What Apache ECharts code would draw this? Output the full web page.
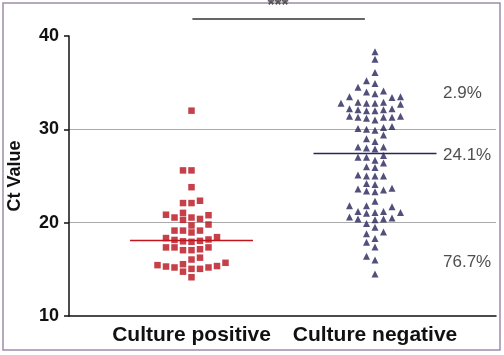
<!DOCTYPE html>
<html><head><meta charset="utf-8">
<script src="https://cdn.jsdelivr.net/npm/echarts@6/dist/echarts.min.js"></script>
<style>html,body{margin:0;padding:0;background:#fff}#c{width:504px;height:355px}</style>
</head><body><div id="c"></div>
<script>
// ---- data ----
const categories = ['Culture positive', 'Culture negative'];
const positiveCt = [32.0, 25.6, 25.6, 23.8, 22.1, 22.1, 22.35, 21.05, 20.85, 20.55, 20.3, 20.4, 20.55, 20.8,
  19.8, 19.7, 19.15, 19.15, 18.95, 19.15, 18.45, 18.2, 18.05, 18.0, 18.15, 18.35, 17.95,
  17.35, 17.15, 17.05, 17.05, 17.35, 17.35, 16.05, 16.25,
  15.55, 15.35, 15.2, 15.05, 15.05, 15.2, 15.3, 15.45, 15.7, 14.75, 14.15];
const negativeCt = [38.3, 37.5, 36.1, 35.2, 34.9, 34.5, 34.1, 34.0, 33.8,
  33.5, 33.4, 33.5,
  32.9, 32.8, 32.7, 32.8, 32.9, 32.8,
  32.2, 32.0, 32.1, 32.0, 32.2, 32.1,
  31.4, 31.3, 31.2, 31.3, 31.4, 31.3,
  31.0,
  30.3, 30.1, 30.0, 29.9, 30.2,
  29.4, 29.0, 28.7,
  28.1, 28.1, 28.0, 27.9,
  27.2, 27.0, 27.0, 26.7, 26.4,
  26.0, 25.9,
  25.0, 25.0, 25.1, 25.0,
  24.2, 24.1,
  23.7, 23.6, 23.5, 23.4, 23.3,
  22.3,
  21.8, 21.7, 21.8,
  21.1, 21.2, 21.0, 21.1, 21.2,
  20.5, 20.4, 20.3, 20.4, 20.6,
  19.9, 19.5, 19.0, 18.8, 18.3, 17.9, 17.4, 16.4, 16.0, 14.5];
const medians = [18.1, 27.4];
const percentLabels = ['2.9%', '24.1%', '76.7%'];
const yTicks = [10, 20, 30, 40];
const significance = '***';
const yName = 'Ct Value';

// ---- layout ----
const GRID = {left: 69, right: 8, top: 36, bottom: 39};
const W = 504, H = 355;
const plotW = W - GRID.left - GRID.right, plotH = H - GRID.top - GRID.bottom;
const X_MIN = 0.3324, X_MAX = 2.6594;
const pxX = plotW / (X_MAX - X_MIN);
const Y_MIN = yTicks[0], Y_MAX = yTicks[yTicks.length - 1];
const pxY = plotH / (Y_MAX - Y_MIN);

function swarm(values, center) {
  const slot = 8.5, hitY = 7;
  const sorted = values.slice().sort((a, b) => a - b);
  const placed = [];
  return sorted.map(v => {
    for (let k = 0; ; k++) {
      const s = k === 0 ? 0 : (k % 2 ? -Math.ceil(k / 2) : k / 2);
      if (!placed.some(p => p.s === s && Math.abs(p.v - v) * pxY < hitY)) {
        placed.push({s, v});
        return [center + s * slot / pxX, v];
      }
    }
  });
}

const halfMed = 0.335;
const sigY = Y_MAX + (GRID.top - 19) / pxY;
const starY = Y_MAX + (GRID.top - 6) / pxY;
const pctX = 2 + (443 - 375) / pxX;
const pctY = [33.9, 27.25, 15.8];
const FONT = 'Liberation Sans, Arial, sans-serif';

const chart = echarts.init(document.getElementById('c'), null, {renderer: 'canvas'});
chart.setOption({
  animation: false,
  backgroundColor: '#fff',
  grid: {left: GRID.left, right: GRID.right, top: GRID.top, bottom: GRID.bottom},
  xAxis: {
    type: 'value', min: X_MIN, max: X_MAX,
    axisLine: {show: true, onZero: false, lineStyle: {color: '#111', width: 1.5}},
    axisTick: {show: false},
    splitLine: {show: false},
    axisLabel: {customValues: [1, 2], formatter: v => categories[Math.round(v) - 1] || '',
      fontSize: 21, fontWeight: 'bold', color: '#111', fontFamily: FONT, margin: 9}
  },
  yAxis: {
    type: 'value', min: Y_MIN, max: Y_MAX, interval: 10,
    axisLine: {show: true, lineStyle: {color: '#111', width: 1.5}},
    axisTick: {show: true, length: 5, lineStyle: {color: '#111', width: 1.5}},
    axisLabel: {fontSize: 18, fontWeight: 'bold', color: '#111', fontFamily: FONT, margin: 10},
    splitLine: {show: true, showMinLine: false, showMaxLine: false, lineStyle: {color: '#aaa', width: 1}}
  },
  graphic: [
    {type: 'rect', shape: {x: 3, y: 3, width: 497, height: 347}, silent: true,
      style: {fill: 'none', stroke: '#a08cae', lineWidth: 1.5}},
    {type: 'text', x: 15, y: GRID.top + plotH / 2, rotation: Math.PI / 2, silent: true,
      style: {text: yName, font: 'bold 18px "Liberation Sans", Arial, sans-serif', fill: '#111',
        textAlign: 'center', textVerticalAlign: 'middle'}}
  ],
  series: [
    {type: 'scatter', symbol: 'rect', symbolSize: 6.5, itemStyle: {color: '#b8101c'}, data: swarm(positiveCt, 1), z: 3},
    {type: 'scatter', symbol: 'triangle', symbolSize: 7, itemStyle: {color: '#25245a'}, data: swarm(negativeCt, 2), z: 3},
    {type: 'line', symbol: 'none', lineStyle: {color: '#c0141e', width: 1.5}, data: [[1 - halfMed, medians[0]], [1 + halfMed, medians[0]]], z: 4},
    {type: 'line', symbol: 'none', lineStyle: {color: '#27275f', width: 1.5}, data: [[2 - halfMed, medians[1]], [2 + halfMed, medians[1]]], z: 4},
    {type: 'line', symbol: 'none', clip: false, lineStyle: {color: '#333', width: 1.5}, data: [[1.005, sigY], [1.945, sigY]]},
    {type: 'scatter', symbolSize: 0, clip: false, silent: true,
      data: [[1.471, starY]],
      label: {show: true, position: 'inside', formatter: significance, fontSize: 18, fontWeight: 'bold', color: '#333', fontFamily: FONT}},
    {type: 'scatter', symbolSize: 0, clip: false, silent: true,
      data: pctY.map((y, i) => ({value: [pctX, y], name: percentLabels[i]})),
      label: {show: true, position: 'inside', align: 'left', formatter: p => p.name, fontSize: 17, color: '#222', fontFamily: FONT}}
  ]
});
</script></body></html>
